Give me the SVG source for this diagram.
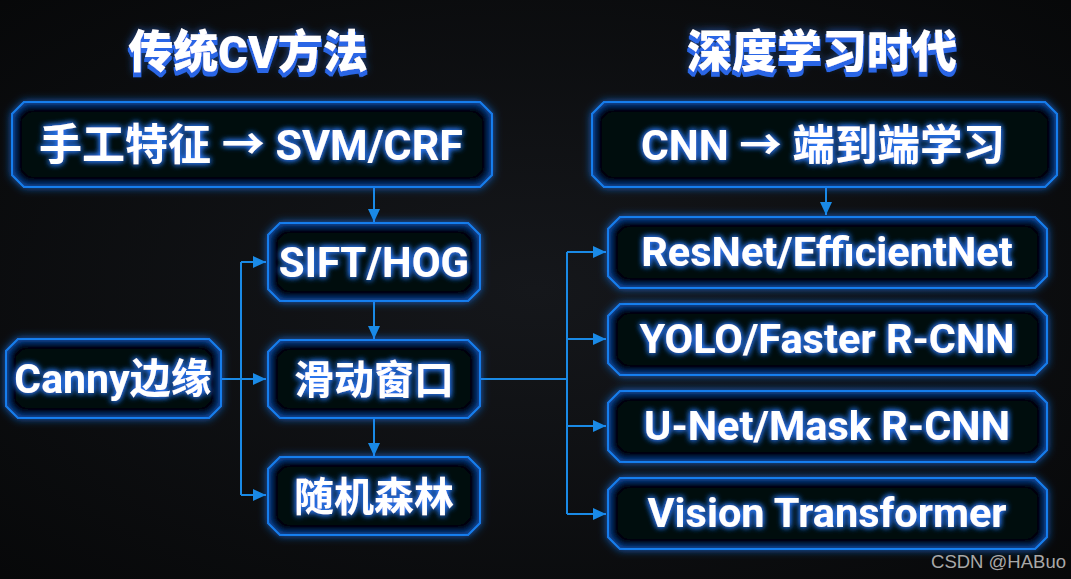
<svg xmlns="http://www.w3.org/2000/svg" width="1071" height="579" viewBox="0 0 1071 579">
<defs>
<radialGradient id="bg" cx="50%" cy="50%" r="75%">
<stop offset="0" stop-color="#15171b"/>
<stop offset="1" stop-color="#060708"/>
</radialGradient>
<filter id="boxf" x="-20%" y="-40%" width="140%" height="180%">
<feGaussianBlur in="SourceAlpha" stdDeviation="4" result="ob"/>
<feFlood flood-color="#1a7cff" flood-opacity="0.75"/>
<feComposite in2="ob" operator="in" result="outer"/>
<feGaussianBlur in="SourceAlpha" stdDeviation="5" result="ib"/>
<feComposite in="SourceAlpha" in2="ib" operator="arithmetic" k2="1.1" k3="-1.1" result="edge"/>
<feFlood flood-color="#1766d6"/>
<feComposite in2="edge" operator="in" result="inner"/>
<feMerge><feMergeNode in="outer"/><feMergeNode in="SourceGraphic"/><feMergeNode in="inner"/></feMerge>
</filter>
<filter id="txtf" x="-10%" y="-40%" width="120%" height="180%">
<feGaussianBlur in="SourceAlpha" stdDeviation="3" result="b"/>
<feFlood flood-color="#2f7dff"/>
<feComposite in2="b" operator="in" result="g"/>
<feMerge><feMergeNode in="g"/><feMergeNode in="g"/><feMergeNode in="SourceGraphic"/></feMerge>
</filter>
<filter id="titf" x="-10%" y="-40%" width="120%" height="190%">
<feMorphology in="SourceAlpha" operator="dilate" radius="1" result="d"/>
<feOffset in="d" dy="4" result="od"/>
<feFlood flood-color="#2a66e6"/>
<feComposite in2="od" operator="in" result="sh"/>
<feGaussianBlur in="SourceAlpha" stdDeviation="4" result="b"/>
<feFlood flood-color="#2f7dff" flood-opacity="0.7"/>
<feComposite in2="b" operator="in" result="g"/>
<feMerge><feMergeNode in="g"/><feMergeNode in="sh"/><feMergeNode in="SourceGraphic"/></feMerge>
</filter>
<marker id="ah" markerUnits="userSpaceOnUse" markerWidth="14" markerHeight="14" refX="13" refY="7" orient="auto">
<path d="M0,1 L13,7 L0,13 Z" fill="#1a8ae6"/>
</marker>
<style>
.box{fill:#02070f;stroke:#1e8fff;stroke-width:2;filter:url(#boxf)}
.t{font-family:Roboto,"Noto Sans CJK SC",sans-serif;font-weight:bold;fill:#ffffff;text-anchor:middle;filter:url(#txtf)}
.title{font-family:Roboto,"Noto Sans CJK SC",sans-serif;font-weight:900;fill:#ffffff;text-anchor:middle;font-size:45px;filter:url(#titf)}
.c{fill:none;stroke:#1a8ae6;stroke-width:2}
</style>
</defs>
<rect width="1071" height="579" fill="url(#bg)"/>

<g id="titles">
<text class="title" x="248" y="68">传统CV方法</text>
<text class="title" x="822" y="68">深度学习时代</text>
</g>

<g id="connectors">
<path class="c" d="M374,187 V222" marker-end="url(#ah)"/>
<path class="c" d="M374,301 V339" marker-end="url(#ah)"/>
<path class="c" d="M374,418 V456" marker-end="url(#ah)"/>
<path class="c" d="M221,379 H241"/>
<path class="c" d="M241,262 V495"/>
<path class="c" d="M241,262 H266" marker-end="url(#ah)"/>
<path class="c" d="M241,379 H266" marker-end="url(#ah)"/>
<path class="c" d="M241,495 H266" marker-end="url(#ah)"/>
<path class="c" d="M480,379 H567"/>
<path class="c" d="M567,252 V514"/>
<path class="c" d="M567,252 H606" marker-end="url(#ah)"/>
<path class="c" d="M567,339 H606" marker-end="url(#ah)"/>
<path class="c" d="M567,426 H606" marker-end="url(#ah)"/>
<path class="c" d="M567,514 H606" marker-end="url(#ah)"/>
<path class="c" d="M826,187 V215" marker-end="url(#ah)"/>
</g>

<g id="n-handcraft">
<path class="box" d="M24,102 H480 L492,114 V175 L480,187 H24 L12,175 V114 Z"/>
<text class="t" x="251" y="160" font-size="43">手工特征 → SVM/CRF</text>
</g>
<g id="n-cnn">
<path class="box" d="M604,102 H1045 L1057,114 V175 L1045,187 H604 L592,175 V114 Z"/>
<text class="t" x="823" y="160" font-size="42.5">CNN → 端到端学习</text>
</g>
<g id="n-sift">
<path class="box" d="M280,223 H468 L480,235 V289 L468,301 H280 L268,289 V235 Z"/>
<text class="t" x="374" y="277" font-size="42">SIFT/HOG</text>
</g>
<g id="n-sliding">
<path class="box" d="M280,340 H468 L480,352 V406 L468,418 H280 L268,406 V352 Z"/>
<text class="t" x="374" y="394" font-size="40">滑动窗口</text>
</g>
<g id="n-rf">
<path class="box" d="M280,457 H468 L480,469 V523 L468,535 H280 L268,523 V469 Z"/>
<text class="t" x="374" y="511" font-size="40">随机森林</text>
</g>
<g id="n-canny">
<path class="box" d="M18,339 H209 L221,351 V406 L209,418 H18 L6,406 V351 Z"/>
<text class="t" x="113" y="393" font-size="41">Canny边缘</text>
</g>
<g id="n-resnet">
<path class="box" d="M620,217 H1035 L1047,229 V276 L1035,288 H620 L608,276 V229 Z"/>
<text class="t" x="827" y="266" font-size="41.5">ResNet/EfficientNet</text>
</g>
<g id="n-yolo">
<path class="box" d="M620,304 H1035 L1047,316 V363 L1035,375 H620 L608,363 V316 Z"/>
<text class="t" x="827" y="353" font-size="41.5">YOLO/Faster R-CNN</text>
</g>
<g id="n-unet">
<path class="box" d="M620,391 H1035 L1047,403 V450 L1035,462 H620 L608,450 V403 Z"/>
<text class="t" x="827" y="440" font-size="41.5">U-Net/Mask R-CNN</text>
</g>
<g id="n-vit">
<path class="box" d="M620,478 H1035 L1047,490 V537 L1035,549 H620 L608,537 V490 Z"/>
<text class="t" x="827" y="527" font-size="41.5">Vision Transformer</text>
</g>

<text x="1066" y="568" font-family="'Liberation Sans',Arial,sans-serif" font-size="18.5" fill="#a8a8a8" text-anchor="end">CSDN @HABuo</text>
</svg>
